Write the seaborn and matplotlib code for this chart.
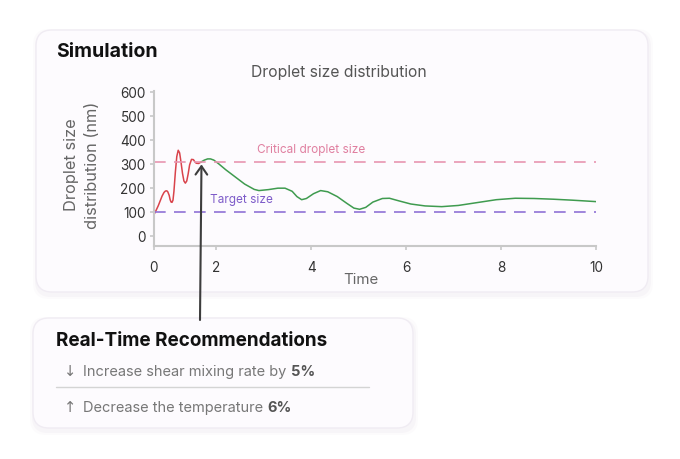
import numpy as np
import pandas as pd
import matplotlib
matplotlib.use("Agg")
import matplotlib.pyplot as plt
from matplotlib.patches import FancyBboxPatch
import seaborn as sns

# data
red_t = [0.70, 0.74, 0.78, 0.82, 0.86, 0.90, 0.93, 0.96, 0.98, 1.01, 1.03, 1.05, 1.07,
         1.09, 1.11, 1.14, 1.17, 1.20, 1.23, 1.26, 1.29, 1.32, 1.35, 1.38, 1.41,
         1.44, 1.48, 1.52, 1.55, 1.58, 1.63, 1.68]
red_v = [92, 108, 125, 145, 165, 180, 186, 187, 183, 168, 150, 140, 139,
         148, 185, 265, 330, 356, 345, 305, 260, 228, 219, 228, 258,
         295, 318, 317, 308, 302, 301, 307]
green_t = [1.68, 1.75, 1.82, 1.88, 1.95, 2.05, 2.2, 2.4, 2.6, 2.8, 2.9, 3.1, 3.3, 3.45,
           3.6, 3.7, 3.8, 3.9, 4.05, 4.2, 4.35, 4.55, 4.75, 4.9, 5.02, 5.15, 5.3,
           5.5, 5.65, 5.85, 6.1, 6.4, 6.75, 7.1, 7.5, 7.9, 8.3, 8.7, 9.1, 9.5, 10.0]
green_v = [307, 315, 320, 320, 315, 300, 275, 245, 215, 193, 188, 192, 198, 198,
           185, 163, 150, 155, 175, 188, 183, 163, 135, 115, 110, 118, 140,
           155, 156, 145, 132, 124, 121, 126, 138, 150, 156, 155, 152, 148, 142]
critical_size = 308
target_size = 100
y_ticks = [0, 100, 200, 300, 400, 500, 600]
x_ticks = [0.69, 2, 4, 6, 8, 10]
x_tick_labels = ["0", "2", "4", "6", "8", "10"]
recs = [("↓", "Increase shear mixing rate by ", "5%"),
        ("↑", "Decrease the temperature ", "6%")]

sns.set_theme(style="white")
plt.rcParams['font.family'] = ['Inter', 'DejaVu Sans']

W, H = 680, 460
fig = plt.figure(figsize=(W / 100, H / 100), dpi=100)
fig.patch.set_facecolor("white")

# background axes in pixel units for the cards and free text
bg = fig.add_axes([0, 0, 1, 1], zorder=0)
bg.set_xlim(0, W)
bg.set_ylim(H, 0)
bg.axis("off")

def card(x0, y0, x1, y1):
    for k, a in [(4, 0.025), (2, 0.04)]:
        bg.add_patch(FancyBboxPatch((x0 - k + 1, y0 - k + 3), x1 - x0 + 2 * k, y1 - y0 + 2 * k,
                                    boxstyle="round,pad=0,rounding_size=16",
                                    fc=(0.5, 0.4, 0.6, a), ec="none"))
    bg.add_patch(FancyBboxPatch((x0, y0), x1 - x0, y1 - y0,
                                boxstyle="round,pad=0,rounding_size=16",
                                fc="#fdfbfe", ec="#f0ecf3", lw=1))

card(36, 31, 648, 293)
card(33, 319, 413, 429)

bg.text(56, 52, "Simulation", fontsize=14, fontweight="bold", color="#111111",
        va="center", ha="left")
bg.text(339, 73, "Droplet size distribution", fontsize=11.3, color="#555555",
        va="center", ha="center")
bg.text(82, 165, "Droplet size\ndistribution (nm)", fontsize=11.8, color="#666666",
        va="center", ha="center", rotation=90, linespacing=1.5)
bg.text(361, 280, "Time", fontsize=10.8, color="#666666", va="center", ha="center")

bg.text(56, 341, "Real-Time Recommendations", fontsize=13.6, fontweight="bold",
        color="#111111", va="center", ha="left")
bg.plot([56, 369], [388, 388], color="#d4d4d4", lw=1)

# chart
ax = fig.add_axes([154 / W, (H - 247) / H, (596 - 154) / W, (247 - 92) / H], zorder=1)
ax.patch.set_alpha(0)
sns.lineplot(x=red_t, y=red_v, color="#d9434b", lw=1.1, ax=ax)
sns.lineplot(x=green_t, y=green_v, color="#3f9b4f", lw=1.1, ax=ax)
ax.axhline(critical_size, color="#e895b0", lw=1.2, dashes=(7, 5))
ax.axhline(target_size, color="#8f72d6", lw=1.2, dashes=(7, 5))
ax.text(4.0, 362, "Critical droplet size", color="#e07fa0", fontsize=8.5,
        ha="center", va="center")
ax.text(2.54, 153, "Target size", color="#7e5cc9", fontsize=8.5,
        ha="center", va="center")

ax.set_xlim(0.69, 10)
ax.set_ylim(-43, 603)
ax.set_yticks(y_ticks)
ax.set_xticks(x_ticks)
ax.set_xticklabels(x_tick_labels)
ax.tick_params(axis="both", colors="#c8c8c8", labelcolor="#333333", labelsize=9.8,
               length=3, width=1.2, direction="out")
ax.tick_params(axis="x", pad=7, bottom=True)
ax.tick_params(axis="y", pad=3, left=True)
for s in ["top", "right"]:
    ax.spines[s].set_visible(False)
for s in ["left", "bottom"]:
    ax.spines[s].set_color("#c8c8c8")
    ax.spines[s].set_linewidth(1.5)
ax.set_xlabel("")
ax.set_ylabel("")

ax.annotate("", xy=(1.69, 297), xycoords="data",
            xytext=(200, 321), textcoords=bg.transData,
            arrowprops=dict(arrowstyle="->,head_length=0.5,head_width=0.35",
                            color="#3d3d3d", lw=1.5, shrinkA=0, shrinkB=0),
            annotation_clip=False, zorder=5)

# recommendation lines with bold percentages
fig.canvas.draw()
renderer = fig.canvas.get_renderer()
for (sym, txt, val), y in zip(recs, [372, 408]):
    bg.text(70, y, sym, fontsize=10.5, color="#777777", va="center", ha="center",
            family=['DejaVu Sans'])
    t = bg.text(83, y, txt, fontsize=10.5, color="#777777", va="center", ha="left")
    bb = t.get_window_extent(renderer=renderer)
    x_end = bg.transData.inverted().transform((bb.x1, bb.y0))[0]
    bg.text(x_end, y, val, fontsize=10.5, color="#555555", fontweight="bold",
            va="center", ha="left")

fig.savefig("out.png", dpi=100)
